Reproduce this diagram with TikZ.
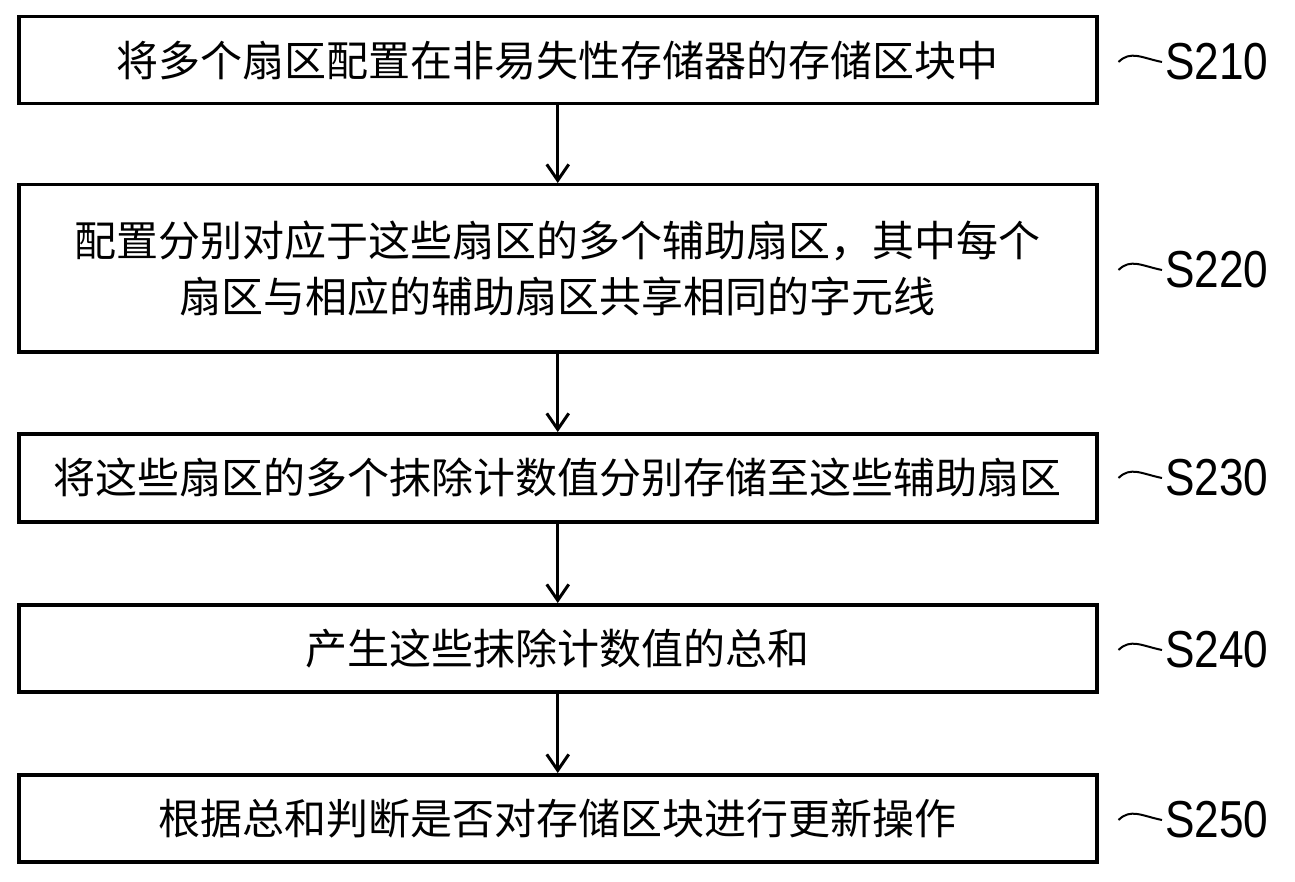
\documentclass[tikz,border=0pt]{standalone}
\usepackage{fontspec}
\setmainfont{Liberation Sans}
\newfontfamily\cjk{Noto Sans CJK SC}
\usetikzlibrary{arrows.meta}
\begin{document}
\begin{tikzpicture}[x=1pt,y=-1pt,
  stepbox/.style={draw,line width=3.5pt,minimum width=1078pt,inner sep=0pt,anchor=north west,font=\cjk\fontsize{42}{56}\selectfont,align=center},
  arr/.style={line width=3pt,-{Straight Barb[length=16pt,width=22pt,line width=3pt]}},
  lab/.style={font=\fontsize{52}{52}\selectfont,xscale=0.85,anchor=west}]
\useasboundingbox (0,0) rectangle (1295,882);
\node[stepbox,minimum height=87pt] (b1) at (17,15) {将多个扇区配置在非易失性存储器的存储区块中};
\node[stepbox,minimum height=167pt] (b2) at (17,183) {配置分别对应于这些扇区的多个辅助扇区，其中每个\\扇区与相应的辅助扇区共享相同的字元线};
\node[stepbox,minimum height=88pt] (b3) at (17,432) {将这些扇区的多个抹除计数值分别存储至这些辅助扇区};
\node[stepbox,minimum height=87pt] (b4) at (17,603) {产生这些抹除计数值的总和};
\node[stepbox,minimum height=87pt] (b5) at (17,773) {根据总和判断是否对存储区块进行更新操作};
\foreach \a/\b in {b1/b2,b2/b3,b3/b4,b4/b5} \draw[arr] (\a.south) -- (\b.north);
\foreach \n/\t/\y in {b1/S210/62,b2/S220/270,b3/S230/478,b4/S240/650,b5/S250/820}{
  \coordinate (w\n) at (1162,\y);
  \draw[line width=2pt] ([xshift=20pt]\n.east |- 0,\y) .. controls +(12,-12) and +(-20,-4) .. (w\n);
  \node[lab] (l\n) at (1162,\y) {\t};
}
\end{tikzpicture}
\end{document}
